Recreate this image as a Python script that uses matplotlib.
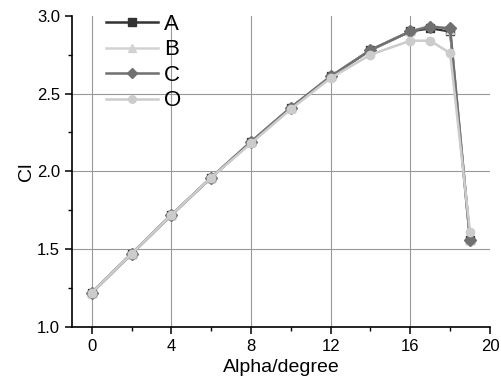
import matplotlib
matplotlib.use('Agg')
from matplotlib import pyplot as plt
from matplotlib.ticker import MultipleLocator

plt.rcParams['font.family'] = ['Liberation Sans', 'DejaVu Sans']

alpha = [0, 2, 4, 6, 8, 10, 12, 14, 16, 17, 18, 19]
cl_a = [1.22, 1.47, 1.72, 1.96, 2.19, 2.41, 2.61, 2.78, 2.90, 2.92, 2.90, 1.56]
cl_b = [1.22, 1.47, 1.72, 1.96, 2.19, 2.41, 2.61, 2.78, 2.90, 2.94, 2.91, 1.56]
cl_c = [1.22, 1.47, 1.72, 1.96, 2.19, 2.41, 2.61, 2.78, 2.90, 2.93, 2.92, 1.56]
cl_o = [1.22, 1.47, 1.72, 1.96, 2.18, 2.40, 2.60, 2.75, 2.84, 2.84, 2.76, 1.61]

series = [
    ('A', cl_a, '#333333', 's'),
    ('B', cl_b, '#d2d2d2', '^'),
    ('C', cl_c, '#707070', 'D'),
    ('O', cl_o, '#cccccc', 'o'),
]

fig = plt.figure(figsize=(5.02, 3.86), dpi=100)
ax = fig.add_axes([0.143, 0.153, 0.833, 0.806])

for label, vals, color, marker in series:
    ax.plot(alpha, vals, color=color, marker=marker, markersize=6,
            linewidth=1.8, label=label, markeredgecolor=color)

ax.set_xlim(-1, 20)
ax.set_ylim(1.0, 3.0)
ax.xaxis.set_major_locator(MultipleLocator(4))
ax.xaxis.set_minor_locator(MultipleLocator(2))
ax.yaxis.set_major_locator(MultipleLocator(0.5))
ax.yaxis.set_minor_locator(MultipleLocator(0.25))
ax.grid(True, which='major', color='#999999', linewidth=0.8)
ax.set_axisbelow(True)

for side in ['top', 'right']:
    ax.spines[side].set_visible(False)
ax.spines['left'].set_linewidth(1.2)
ax.spines['bottom'].set_linewidth(1.2)
ax.tick_params(which='major', direction='out', length=5, width=1.1, labelsize=12)
ax.tick_params(which='minor', direction='out', length=3, width=1.0)

ax.set_xlabel('Alpha/degree', fontsize=14)
ax.set_ylabel('Cl', fontsize=14, labelpad=1)

ax.legend(loc='upper left', bbox_to_anchor=(0.035, 1.07), frameon=False,
          fontsize=16, handlelength=2.3, handletextpad=0.3, labelspacing=0.2,
          markerscale=0.9)

# no grid line along the top and right edges
fig.canvas.draw()
for tick in ax.yaxis.get_major_ticks():
    if abs(tick.get_loc() - 3.0) < 1e-6:
        tick.gridline.set_visible(False)
for tick in ax.xaxis.get_major_ticks():
    if abs(tick.get_loc() - 20) < 1e-6:
        tick.gridline.set_visible(False)

fig.savefig('out.png', dpi=100)
